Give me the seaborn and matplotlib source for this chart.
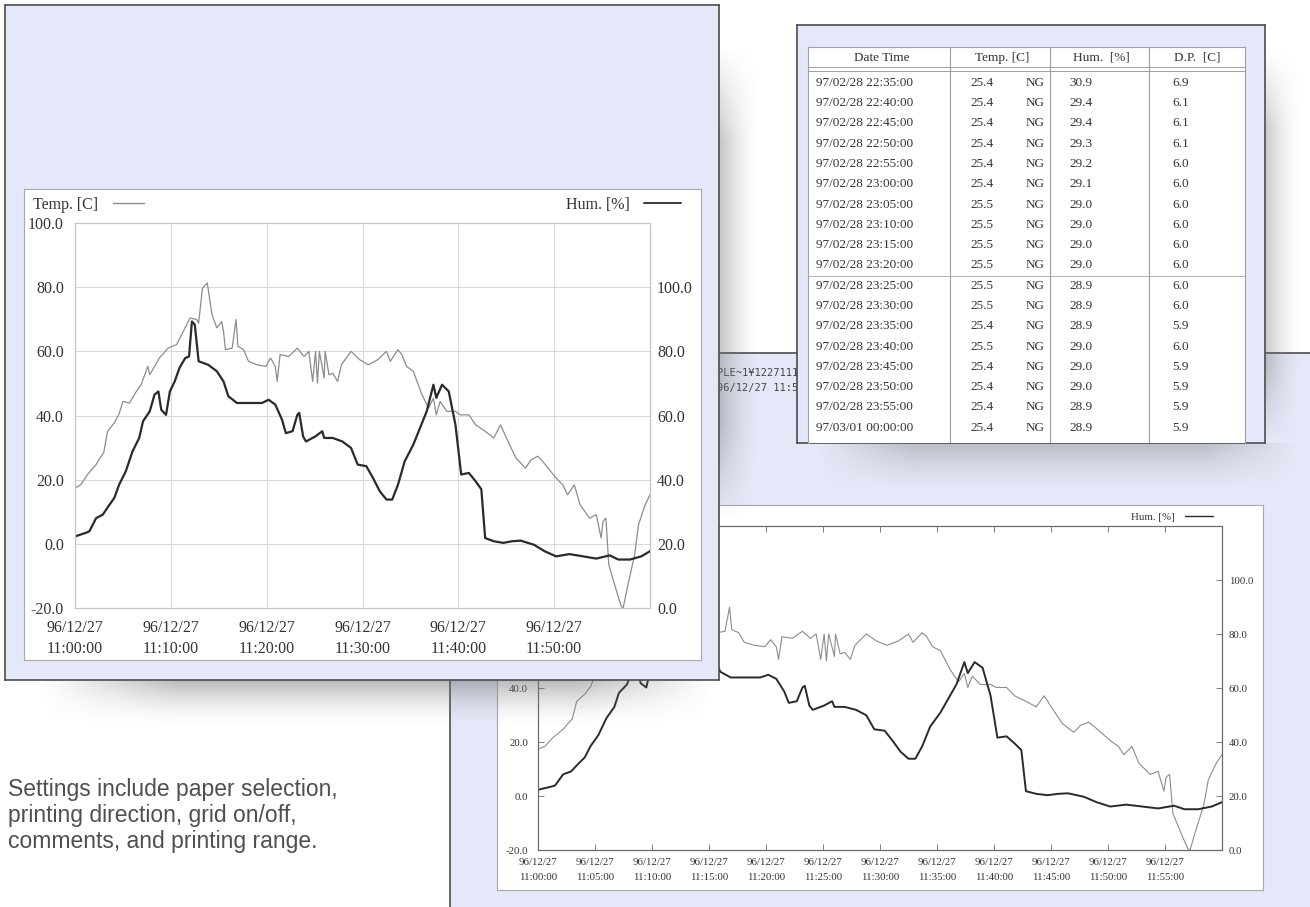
import numpy as np
import matplotlib
matplotlib.use('Agg')
import matplotlib.pyplot as plt
import seaborn as sns
from matplotlib.lines import Line2D

sns.set_style('white')
plt.rcParams['font.family'] = ['Liberation Serif', 'DejaVu Serif']

# ---------------------------------------------------------------
# data (minutes after 11:00:00)
# ---------------------------------------------------------------
temp_minutes = [0, 0.6, 1.3, 2.2, 2.6, 3.0, 3.4, 4.1, 4.6, 5.0,
                5.7, 6.4, 6.9, 7.6, 7.8, 8.8, 9.7, 10.6, 11.3, 12.0,
                12.7, 12.9, 13.3, 13.8, 14.3, 14.8, 15.3, 15.5, 15.7, 16.4,
                16.8, 17.0, 17.6, 18.1, 19.0, 19.9, 20.4, 20.9, 21.1, 21.4,
                22.3, 23.2, 23.9, 24.4, 24.8, 25.1, 25.3, 25.5, 26.0, 26.1,
                26.5, 26.9, 27.4, 27.8, 28.8, 29.7, 30.6, 31.6, 32.5, 32.9,
                33.7, 34.1, 34.6, 35.3, 36.2, 36.9, 37.4, 37.7, 38.1, 38.8,
                39.7, 40.2, 41.1, 41.8, 42.8, 43.7, 44.4, 45.1, 46.0, 47.0,
                47.6, 48.3, 48.8, 49.5, 50.2, 50.9, 51.4, 52.1, 52.7, 53.7,
                54.4, 54.9, 55.1, 55.4, 55.7, 56.3, 57.0, 57.2, 57.7, 58.4,
                58.8, 59.5, 60.0]
temp_values = [17.4, 18.4, 21.6, 24.7, 26.7, 28.5, 35.1, 37.7, 40.5, 44.4,
               43.9, 47.5, 49.6, 55.3, 52.7, 57.9, 61.0, 62.1, 66.2, 70.4,
               69.9, 68.8, 79.7, 81.3, 71.4, 67.3, 69.3, 66.2, 60.5, 61.0,
               69.9, 61.6, 60.5, 56.9, 55.8, 55.3, 57.9, 55.3, 50.6, 59.0,
               58.4, 61.0, 58.4, 60.0, 50.6, 60.0, 50.1, 60.0, 51.7, 60.0,
               52.7, 53.2, 50.6, 55.8, 60.0, 57.4, 55.8, 57.4, 60.0, 56.9,
               60.5, 59.0, 55.3, 53.8, 46.5, 42.3, 45.4, 40.2, 44.4, 41.3,
               41.3, 40.2, 40.2, 37.1, 35.1, 33.0, 37.1, 32.5, 26.8, 23.6,
               26.2, 27.3, 25.7, 23.1, 20.5, 18.4, 15.3, 18.4, 12.2, 8.0,
               9.1, 1.8, 7.0, 8.0, -6.5, -12.7, -19.5, -20.0, -12.7, -3.4,
               6.0, 12.2, 15.3]

hum_minutes = [0, 1.1, 1.5, 2.2, 2.9, 3.6, 4.1, 4.6, 5.3, 6.0,
               6.7, 7.1, 7.8, 8.3, 8.7, 9.0, 9.5, 9.9, 10.4, 10.9,
               11.5, 11.9, 12.2, 12.5, 12.9, 13.9, 14.8, 15.5, 16.0, 16.9,
               18.1, 19.5, 20.2, 20.9, 21.6, 22.0, 22.7, 23.2, 23.4, 23.8,
               24.1, 25.1, 25.8, 26.0, 26.9, 27.9, 28.8, 29.5, 30.4, 31.1,
               31.8, 32.5, 33.1, 33.7, 34.4, 35.3, 36.0, 36.7, 37.4, 37.7,
               38.3, 39.0, 39.7, 40.3, 41.1, 41.8, 42.4, 42.8, 43.7, 44.7,
               45.6, 46.5, 47.9, 49.0, 50.2, 51.6, 53.0, 54.4, 55.8, 56.7,
               57.9, 59.1, 60.0]
hum_values = [22.3, 23.4, 23.9, 28.0, 29.1, 32.2, 34.3, 38.4, 42.6, 48.8,
              53.0, 58.2, 61.3, 66.5, 67.5, 61.8, 60.2, 67.5, 70.6, 74.8,
              77.9, 78.4, 89.3, 88.3, 76.9, 75.8, 73.8, 70.6, 66.0, 63.9,
              63.9, 63.9, 64.9, 63.4, 58.7, 54.5, 55.1, 60.2, 60.8, 53.5,
              51.9, 53.5, 55.1, 53.0, 53.0, 51.9, 49.9, 44.7, 44.2, 40.5,
              36.4, 33.8, 33.8, 38.4, 45.7, 50.9, 56.1, 61.3, 69.6, 65.5,
              69.6, 67.5, 57.1, 41.6, 42.1, 39.5, 37.0, 21.8, 20.8, 20.3,
              20.8, 21.0, 19.7, 17.7, 16.1, 16.8, 16.1, 15.4, 16.4, 15.1,
              15.1, 16.1, 17.7]

date_label = '96/12/27'
main_tick_minutes = [0, 10, 20, 30, 40, 50]
main_tick_times = ['11:00:00', '11:10:00', '11:20:00', '11:30:00', '11:40:00', '11:50:00']
wide_tick_minutes = [0, 5, 10, 15, 20, 25, 30, 35, 40, 45, 50, 55]
wide_tick_times = ['11:00:00', '11:05:00', '11:10:00', '11:15:00', '11:20:00', '11:25:00',
                   '11:30:00', '11:35:00', '11:40:00', '11:45:00', '11:50:00', '11:55:00']
temp_ticks = [-20, 0, 20, 40, 60, 80, 100]
hum_ticks = [0, 20, 40, 60, 80, 100]

table_header = ['Date Time', 'Temp. [C]', 'Hum.  [%]', 'D.P.  [C]']
table_dates = ['97/02/28 22:35:00', '97/02/28 22:40:00', '97/02/28 22:45:00',
               '97/02/28 22:50:00', '97/02/28 22:55:00', '97/02/28 23:00:00',
               '97/02/28 23:05:00', '97/02/28 23:10:00', '97/02/28 23:15:00',
               '97/02/28 23:20:00', '97/02/28 23:25:00', '97/02/28 23:30:00',
               '97/02/28 23:35:00', '97/02/28 23:40:00', '97/02/28 23:45:00',
               '97/02/28 23:50:00', '97/02/28 23:55:00', '97/03/01 00:00:00']
table_temps = [25.4, 25.4, 25.4, 25.4, 25.4, 25.4, 25.5, 25.5, 25.5,
               25.5, 25.5, 25.5, 25.4, 25.5, 25.4, 25.4, 25.4, 25.4]
table_hums = [30.9, 29.4, 29.4, 29.3, 29.2, 29.1, 29.0, 29.0, 29.0,
              29.0, 28.9, 28.9, 28.9, 29.0, 29.0, 29.0, 28.9, 28.9]
table_dps = [6.9, 6.1, 6.1, 6.1, 6.0, 6.0, 6.0, 6.0, 6.0,
             6.0, 6.0, 6.0, 5.9, 6.0, 5.9, 5.9, 5.9, 5.9]
table_flag = 'NG'

header_lines = ['PLE~1\u00a51227111', '96/12/27 11:5']
caption_lines = ['Settings include paper selection,',
                 'printing direction, grid on/off,',
                 'comments, and printing range.']

# ---------------------------------------------------------------
# page layout (pixel boxes on a 1310 x 907 page)
# ---------------------------------------------------------------
W, H = 1310, 907
fig = plt.figure(figsize=(W / 100, H / 100), dpi=100, facecolor='white')

LAV = '#e5e8f8'
EDGE = '#4d4d4d'
INK = '#333333'
THIN = '#8c8c8c'
THICK = '#2a2a2a'


def box(x0, y0, x1, y1):
    return [x0 / W, 1 - y1 / H, (x1 - x0) / W, (y1 - y0) / H]


def panel(x0, y0, x1, y1, face, edge=EDGE, lw=1.2):
    ax = fig.add_axes(box(x0, y0, x1, y1))
    ax.set_facecolor(face)
    ax.set_xlim(x0, x1)
    ax.set_ylim(y1, y0)
    ax.set_xticks([])
    ax.set_yticks([])
    for s in ax.spines.values():
        s.set_color(edge)
        s.set_linewidth(lw)
    return ax


def shadow(x0, y0, x1, y1, side, alpha=0.4):
    ax = fig.add_axes(box(x0, y0, x1, y1))
    ax.set_axis_off()
    n = 120
    ramp = np.linspace(1, 0, n) ** 1.6
    ends = np.clip(np.minimum(np.linspace(0, 1, n), np.linspace(1, 0, n)) * 5, 0, 1)
    if side == 'below':
        a = ramp[:, None] * ends[None, :]
    else:
        a = ends[:, None] * ramp[None, :]
    img = np.zeros((n, n, 4))
    img[..., :3] = 0.45
    img[..., 3] = a * alpha
    ax.imshow(img, extent=[0, 1, 0, 1], aspect='auto', interpolation='bilinear')


def draw_chart(rect, fs, thin_lw, thick_lw, ticks, times, linesp, main):
    ax = fig.add_axes(box(*rect))
    ax.set_facecolor('white')
    sns.lineplot(x=temp_minutes, y=temp_values, ax=ax, color=THIN,
                 linewidth=thin_lw, estimator=None, legend=False)
    ax.set_xlim(0, 60)
    ax.set_ylim(-20, 100)
    ax.set_xticks(ticks)
    ax.set_xticklabels([f'{date_label}\n{t}' for t in times], linespacing=linesp)
    ax.set_yticks(temp_ticks)
    ax.set_yticklabels([f'{v:.1f}' for v in temp_ticks])
    ax.set_xlabel('')
    ax.set_ylabel('')

    ax2 = ax.twinx()
    sns.lineplot(x=hum_minutes, y=hum_values, ax=ax2, color=THICK,
                 linewidth=thick_lw, estimator=None, legend=False)
    ax2.set_ylim(0, 120)
    ax2.set_yticks(hum_ticks)
    ax2.set_yticklabels([f'{v:.1f}' for v in hum_ticks])
    ax2.set_ylabel('')

    if main:
        ax.grid(True, color='#d8d8d8', linewidth=0.7)
        ax.set_axisbelow(True)
        for a in (ax, ax2):
            for s in a.spines.values():
                s.set_color('#c4c4c4')
                s.set_linewidth(0.8)
        ax.tick_params(axis='y', length=0, pad=8, labelsize=fs, colors=INK)
        ax.tick_params(axis='x', length=0, pad=9, labelsize=fs, colors=INK)
        ax2.tick_params(axis='y', length=0, pad=5, labelsize=fs, colors=INK)
    else:
        ax.grid(False)
        for a in (ax, ax2):
            for s in a.spines.values():
                s.set_color('#6a6a6a')
                s.set_linewidth(0.8)
        ax.tick_params(axis='x', bottom=True, top=True, direction='in', length=4,
                       width=0.6, color='#6a6a6a', pad=6, labelsize=fs, colors=INK)
        ax.tick_params(axis='y', left=True, direction='in', length=4, width=0.6,
                       color='#6a6a6a', pad=7, labelsize=fs, colors=INK)
        ax2.tick_params(axis='y', right=True, direction='in', length=4, width=0.6,
                        color='#6a6a6a', pad=5, labelsize=fs, colors=INK)
    return ax, ax2


def key(ax, label, color, lw, x, y, fs, hl):
    h = Line2D([], [], color=color, linewidth=lw)
    leg = ax.legend([h], [label], loc='center left', bbox_to_anchor=(x / W, 1 - y / H),
                    bbox_transform=fig.transFigure, frameon=False, markerfirst=False,
                    handlelength=hl, handletextpad=0.9, borderpad=0, borderaxespad=0,
                    prop={'size': fs})
    for t in leg.get_texts():
        t.set_color(INK)
    return leg


# ---------------------------------------------------------------
# second printout (wide chart, lying underneath)
# ---------------------------------------------------------------
paper2 = panel(450, 353, 1340, 940, LAV)
for i, line in enumerate(header_lines):
    paper2.text(717, 373 + i * 15, line, family='DejaVu Sans Mono', fontsize=7.5,
                color='#454545', va='center', ha='left')
panel(497, 505, 1263, 890, 'white', '#a8a8a8', 0.8)
wide_ax, wide_ax2 = draw_chart((538, 526, 1222, 850), 7.8, 0.8, 1.4,
                               wide_tick_minutes, wide_tick_times, 1.8, False)
key(wide_ax2, 'Hum. [%]', THICK, 1.0, 1131, 517, 7.8, 2.6)

# ---------------------------------------------------------------
# list printout (table)
# ---------------------------------------------------------------
shadow(1265, 50, 1302, 445, 'right', 0.38)
shadow(815, 443, 1300, 495, 'below', 0.38)
panel(797, 25, 1265, 443, LAV)
tab = panel(808, 47, 1245, 443, 'white', '#a0a0a0', 0.8)
tab.spines['bottom'].set_visible(False)

col_lines = [950, 1050, 1149]
header_x = [882, 1002, 1101, 1197]
row0, row_step = 82.7, 20.3
tab.vlines(col_lines, 47, 443, color='#a0a0a0', linewidth=0.8)
tab.hlines([67, 71], 808, 1245, color='#a0a0a0', linewidth=0.7)
tab.hlines(row0 + 9.5 * row_step, 808, 1245, color='#b0b0b0', linewidth=0.7)
for x, h in zip(header_x, table_header):
    tab.text(x, 58, h, ha='center', va='center', fontsize=9.5, color=INK)
for i in range(len(table_dates)):
    y = row0 + i * row_step
    tab.text(816, y, table_dates[i], ha='left', va='center', fontsize=9.5, color=INK)
    tab.text(970, y, f'{table_temps[i]:.1f}', ha='left', va='center', fontsize=9.5, color=INK)
    tab.text(1045, y, table_flag, ha='right', va='center', fontsize=9.5, color=INK)
    tab.text(1069, y, f'{table_hums[i]:.1f}', ha='left', va='center', fontsize=9.5, color=INK)
    tab.text(1172, y, f'{table_dps[i]:.1f}', ha='left', va='center', fontsize=9.5, color=INK)

# ---------------------------------------------------------------
# first printout (graph with grid, on top)
# ---------------------------------------------------------------
shadow(719, 45, 760, 520, 'right', 0.42)
shadow(40, 680, 712, 726, 'below', 0.5)
panel(5, 5, 719, 680, LAV)
panel(24, 189, 701, 660, 'white', '#a8a8a8', 0.8)
main_ax, main_ax2 = draw_chart((75, 223, 650, 608), 11.5, 0.9, 1.6,
                               main_tick_minutes, main_tick_times, 1.35, True)
key(main_ax, 'Temp. [C]', THIN, 1.0, 33, 205, 11.5, 2.0)
key(main_ax2, 'Hum. [%]', THICK, 1.3, 566, 205, 11.5, 2.3)

# ---------------------------------------------------------------
# caption
# ---------------------------------------------------------------
for i, line in enumerate(caption_lines):
    fig.text(8 / W, 1 - (796 + i * 26) / H, line, family=['Liberation Sans', 'DejaVu Sans'],
             fontsize=16.5, color='#4f4f4f', ha='left', va='baseline')

fig.savefig('out.png', dpi=100, facecolor=fig.get_facecolor())
